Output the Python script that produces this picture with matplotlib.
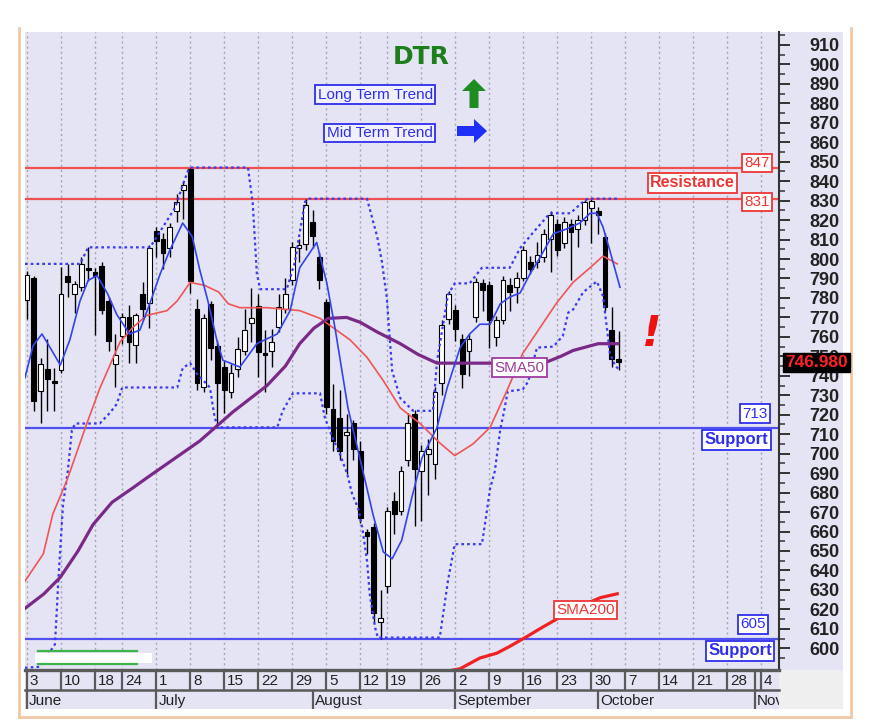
import matplotlib
matplotlib.use('Agg')
import matplotlib.pyplot as plt
from matplotlib.patches import Rectangle, Polygon
from matplotlib.lines import Line2D
import matplotlib.transforms as mtransforms

# ---------------- data ----------------
opens = [779, 790, 732, 743.5, 737.5, 743, 791.5, 782, 785.5, 795.5,
         793.5, 796.5, 778.5, 746, 760.5, 770, 756, 782, 777.5, 814.5,
         810.5, 805.5, 824.5, 835.5, 846.5, 774.5, 734, 777, 755.5, 744.5,
         731.5, 743.5, 753, 767, 776, 751.5, 753, 765, 774.5, 789,
         805.5, 807.5, 819, 801, 778, 723, 718.5, 709.5, 715.5, 701.5,
         659.5, 662.5, 613.5, 632, 675.5, 670.5, 696.5, 720.5, 691, 700,
         694.5, 736.5, 769, 774, 759, 753, 770, 787.5, 786.5, 760,
         768.5, 786.5, 785.5, 790.5, 798.5, 798.5, 801, 810.5, 818, 808,
         818, 815.5, 820, 826, 824.5, 811.5, 763.5, 748.5]
highs = [794, 791.5, 749, 759, 744, 796, 797.5, 788.5, 801, 806,
         795.5, 798.5, 780.5, 761.5, 772.5, 776.5, 772.5, 788, 807, 816.5,
         813.5, 818.5, 833.5, 839.5, 847, 779.5, 771.5, 778.5, 758.5, 747.5,
         746, 760, 774.5, 785, 782, 763.5, 764, 782, 790, 808.5,
         810.5, 831, 825, 803.5, 779.5, 736, 732.5, 720.5, 717.5, 706.5,
         661.5, 664.5, 630, 672.5, 680.5, 693.5, 721, 722.5, 704.5, 707.5,
         734.5, 768.5, 783.5, 776.5, 761.5, 761.5, 790.5, 789.5, 788.5, 770.5,
         791.5, 790.5, 793.5, 806.5, 801.5, 808.5, 815.5, 824.5, 820.5, 821.5,
         820.5, 822.5, 830.5, 831, 826.5, 813.5, 775.5, 763]
lows = [769, 722, 716, 722, 722, 741.5, 780.5, 772.5, 783.5, 788.5,
        761, 771.5, 752.5, 734, 756.5, 746.5, 746.5, 768.5, 764.5, 801,
        795, 801, 819, 820.5, 782.5, 732.5, 731.5, 748, 713.5, 721,
        728.5, 739.5, 750.5, 757.5, 739.5, 731.5, 744.5, 762.5, 772.5, 786.5,
        798.5, 804.5, 805.5, 784.5, 720.5, 701.5, 696.5, 689.5, 696.5, 664.5,
        648.5, 613.5, 605, 628.5, 658.5, 668.5, 693.5, 663, 665.5, 679,
        687, 730, 766.5, 758, 733.5, 740, 767.5, 773.5, 754.5, 755.5,
        766.5, 773.5, 777.5, 788.5, 792.5, 795.5, 798.5, 793.5, 801.5, 805.5,
        789, 806, 817.5, 808, 813, 773.5, 744.5, 743]
closes = [792, 727, 746, 738.5, 736.5, 782, 788, 787, 797.5, 794.5,
          791.5, 774, 758, 750.5, 770, 757.5, 771, 774.5, 805.5, 809.5,
          803, 816.5, 829.5, 838, 788.5, 736.5, 769.5, 754.5, 736.5, 732.5,
          741.5, 754, 763.5, 769.5, 752, 750.5, 757.5, 775.5, 782, 806,
          807, 828, 812, 789, 724, 706.5, 701.5, 711, 702.5, 667,
          657.5, 618, 615.5, 670.5, 669, 691, 715.5, 692, 701.5, 702.5,
          731.5, 766, 782, 764, 741, 759, 788, 784, 768.5, 768.5,
          789, 783, 790.5, 804.5, 795, 802, 813, 822.5, 804.5, 819,
          814, 820, 829.5, 830, 822.5, 775.5, 748.5, 746.98]

fast_x = [-0.3, 0.9, 2.2, 3.4, 4.9, 6.3, 7.8, 9, 10.3, 11.8, 13.2, 15.1, 16.6, 18.1,
          19.6, 21, 22.9, 24.3, 25.4, 26.6, 27.9, 28.8, 29.9, 31.3, 33.8, 36.8, 38.7,
          40.1, 42.6, 44.1, 45.3, 47.2, 49.3, 50.9, 52.4, 53.7, 55.1, 56.6, 58.1, 60.3,
          61.8, 63.7, 65.1, 66.6, 68.1, 69.6, 71, 72.5, 74, 75.4, 77.4, 79.4, 81.3,
          82.8, 83.8, 84.7, 85.7, 87.2]
fast_y = [739, 755.5, 761.5, 754.5, 745.5, 758.5, 778.5, 789, 791.5, 782.5, 771.5, 761.5,
          763.5, 777.5, 792.5, 804.5, 818.5, 811.5, 794.5, 778.5, 758.5, 748, 746.5, 744.5,
          756.5, 761.5, 773.5, 795.5, 808.5, 787.5, 764.5, 723.5, 692.5, 668.5, 649.5, 646,
          655.5, 677.5, 698, 713.5, 734, 754.5, 761.5, 766.5, 766.5, 777, 780.5, 782.5,
          792.5, 800.5, 813, 815.5, 818.5, 823.5, 823.5, 816.5, 804.5, 785.5]

sma20_x = [-0.3, 2.4, 3.8, 5.9, 8.8, 10.7, 13.7, 15.6, 17.6, 20.6, 22.1, 24, 26.1, 28.2,
           29.6, 31.3, 35.3, 40.1, 43.1, 47.5, 50, 52.4, 54.9, 57.8, 60.7, 62.9, 65.6,
           68.1, 70.6, 72.9, 75.4, 77.9, 80.3, 82.8, 84.7, 86.8]
sma20_y = [634.5, 648.5, 669, 686.5, 715.5, 733.5, 757.5, 765, 771, 773.5, 778.5, 788,
           786.5, 783, 777, 775, 775, 773.5, 769.5, 758.5, 749.5, 737.5, 723.5, 715.5,
           705.5, 699, 705, 713.5, 732.5, 751.5, 764.5, 777.5, 788, 795.5, 801.5, 797.5]

sma50_x = [-0.3, 2.5, 4.9, 7.5, 9.7, 12.5, 15.6, 17.6, 21.5, 25.4, 30.3, 35.3, 38, 40.1,
           42.2, 44.3, 47, 49, 51.5, 54.9, 57.5, 60.3, 68.7, 76, 78.5, 80.3, 84, 86.9]
sma50_y = [620.5, 628, 636.5, 650, 663.5, 675, 682.5, 687.5, 697, 706.5, 721.5, 735, 745,
           756.5, 764.5, 769.5, 770, 767.5, 762.5, 756.5, 751, 746.5, 746.5, 746.5, 750,
           753, 756.5, 756.5]

sma200_x = [60, 62.2, 63.7, 66.6, 69.1, 71, 73.5, 75.9, 78.4, 81.3, 84.3, 86.8]
sma200_y = [583, 588.5, 589.5, 595, 597.5, 601, 606, 611, 616, 621.5, 626, 628]

upper_x = [-0.3, 7.8, 9, 18.1, 20, 21.8, 22.9, 23.7, 24.2, 32.5, 33.2, 33.8, 34.3, 38.2,
           39.4, 40.1, 40.9, 41.5, 50, 51.5, 52.2, 52.9, 53.7, 54.9, 56.8, 59.7, 60.3,
           61.2, 61.9, 62.9, 65.1, 66.9, 71, 72.5, 74.4, 76.9, 79.9, 81.8, 82.5, 86.8]
upper_y = [797.5, 797.5, 806, 806, 816.5, 826.5, 838, 845.5, 847, 847, 828.5, 792.5,
           784.5, 784.5, 798.5, 813.5, 829.5, 831, 831, 811.5, 798.5, 780.5, 742.5, 728.5,
           722, 722, 747.5, 766.5, 781.5, 787.5, 787.5, 795.5, 795.5, 805.5, 813.5, 823.5,
           823.5, 829.5, 831, 831]

lower_x = [-0.3, 1.9, 4.1, 4.3, 4.6, 5.3, 6, 6.6, 7.1, 10.7, 12.2, 13.2, 14, 22.1, 22.9,
           24, 25, 26.9, 27.6, 28.1, 36.8, 37.6, 39.1, 43.1, 43.8, 44.9, 46, 47.1, 47.8,
           48.7, 49.3, 50, 50.4, 51.2, 51.6, 60.7, 61.3, 61.9, 62.9, 66.9, 67.4, 68.1,
           68.8, 69.6, 70, 70.7, 72.9, 73.7, 75, 77.4, 78.8, 79.6, 80.3, 81.8, 83.8,
           84.7, 85.3, 85.7, 86.5, 87.2]
lower_y = [590, 590.5, 602, 614, 634.5, 674, 691, 712, 715.5, 715.5, 721, 725.5, 734, 734,
           744, 746.5, 741, 734, 718.5, 713.5, 713.5, 722, 731, 731, 718.5, 708.5, 700,
           689.5, 679.5, 672, 662, 645, 628, 610.5, 605.5, 605.5, 620, 634.5, 653.5, 653.5,
           665, 682, 691, 712.5, 719, 732, 733, 737, 754.5, 755, 760.5, 772.5, 774, 783,
           788.5, 781, 764, 752, 745, 743]

resistance_levels = [847, 831]
support_levels = [713, 605]
last_price = 746.98

week_days = [0, 5, 10, 14, 19, 24, 29, 34, 39, 44, 49, 53, 58, 63, 68, 73, 78, 83,
             88, 93, 98, 103, 108]
week_labels = ['3', '10', '18', '24', '1', '8', '15', '22', '29', '5', '12', '19', '26',
               '2', '9', '16', '23', '30', '7', '14', '21', '28', '4']
month_starts = [0, 19, 42, 63, 84, 107]
month_names = ['June', 'July', 'August', 'September', 'October', 'November']
y_ticks = list(range(600, 911, 10))

# ---------------- style ----------------
W, H = 880, 726
LAV = '#E4E4F4'
FONT = 'Liberation Sans'
NARROW = ['Liberation Sans Narrow', 'Liberation Sans']
RED = '#EE3535'
BLUE = '#2E2EEE'
PURPLE = '#A03C9E'

fig = plt.figure(figsize=(W / 100, H / 100), dpi=100)
fig.patch.set_facecolor('white')
pix = mtransforms.Affine2D().scale(1 / W, -1 / H).translate(0, 1) + fig.transFigure

# background panels and frame (behind the axes)
fig.patches.append(Rectangle((25, 31.5), 818, 677.8, transform=pix, facecolor=LAV,
                             edgecolor='none', zorder=-5))
fig.patches.append(Rectangle((779, 670), 64, 39.3, transform=pix, facecolor='#EFEFEF',
                             edgecolor='none', zorder=-4))
for xs, ys in [([19, 19], [28, 717]), ([851, 851], [28, 717]), ([19, 851], [717, 717])]:
    fig.lines.append(Line2D(xs, ys, transform=pix, color='#F2C8A4', lw=2, zorder=-3))

# ---------------- main axes ----------------
ax = fig.add_axes([25 / W, 1 - 670 / H, 754 / W, 638 / H])
ax.set_facecolor(LAV)
ax.set_xlim(-0.294, 110.59)
ax.set_ylim(588.85, 916.64)
for s in ['left', 'top', 'bottom']:
    ax.spines[s].set_visible(False)
ax.spines['right'].set_color('#333333')
ax.spines['right'].set_linewidth(1.5)
ax.set_xticks([])
ax.yaxis.tick_right()
ax.set_yticks(y_ticks)
ax.set_yticks([v + 5 for v in y_ticks[:-1]] + [595, 915], minor=True)
ax.set_yticklabels([str(v) for v in y_ticks])
ax.tick_params(axis='y', which='major', length=8, width=1.4, color='#333333', pad=14,
               labelsize=13, labelcolor='#222222')
ax.tick_params(axis='y', which='minor', length=4, width=1.1, color='#333333')
for lbl in ax.get_yticklabels():
    lbl.set_fontfamily(NARROW)
    lbl.set_fontweight('bold')

# vertical dotted grid
for d in week_days:
    ax.axvline(d, color='#A4A4B4', lw=1.0, ls=(0, (1.5, 2.2)), zorder=1)

# levels
for lv in resistance_levels:
    ax.axhline(lv, color='#F05050', lw=1.6, zorder=2)
for lv in support_levels:
    ax.axhline(lv, color='#5050F0', lw=1.6, zorder=2)

# candles
bw = 0.72
for i, (o, h, l, c) in enumerate(zip(opens, highs, lows, closes)):
    ax.vlines(i, l, h, color='black', lw=1.0, zorder=3)
    bottom = min(o, c)
    height = max(abs(c - o), 0.7)
    fc = 'white' if c >= o else 'black'
    ax.add_patch(Rectangle((i - bw / 2, bottom), bw, height, facecolor=fc,
                           edgecolor='black', lw=0.8, zorder=4))

# indicator lines
ax.plot(upper_x, upper_y, color='#3A3AF0', lw=1.6, ls=(0, (1.2, 1.4)), zorder=5)
ax.plot(lower_x, lower_y, color='#3A3AF0', lw=1.6, ls=(0, (1.2, 1.4)), zorder=5)
ax.plot(sma20_x, sma20_y, color='#F05555', lw=1.2, zorder=6)
ax.plot(sma50_x, sma50_y, color='#7A2A86', lw=2.3, zorder=6, solid_joinstyle='round')
ax.plot(sma200_x, sma200_y, color='#EE2222', lw=2.3, zorder=6, solid_joinstyle='round')
ax.plot(fast_x, fast_y, color='#3344EE', lw=1.2, zorder=7)

# partial top label (920), cut by the panel edge
clip_rect = Rectangle((780, 31.5), 63, 30, transform=pix, facecolor='none', edgecolor='none')
fig.patches.append(clip_rect)
t920 = fig.text(810 / W, 1 - 25.5 / H, '920', ha='left', va='center', fontsize=13,
                fontweight='bold', family=NARROW, color='#222222')
t920.set_clip_path(clip_rect)

# ---------------- annotation boxes ----------------
blend = mtransforms.blended_transform_factory(ax.transAxes, ax.transData)


def boxed(x, y, s, color, size, weight='normal', transform=None, fc='white', pad=0.15):
    ax.text(x, y, s, transform=transform, ha='center', va='center', fontsize=size,
            fontweight=weight, family=FONT, color=color, zorder=10, clip_on=False,
            bbox=dict(boxstyle='square,pad=%s' % pad, fc=fc, ec=color, lw=1.3))


boxed(0.9708, 849.3, '847', RED, 11, transform=blend)
boxed(0.9708, 829.3, '831', RED, 11, transform=blend)
boxed(0.8853, 839.2, 'Resistance', RED, 11.5, 'bold', transform=blend)
boxed(0.9678, 720.6, '713', BLUE, 11, transform=blend)
boxed(0.9439, 707.1, 'Support', BLUE, 12, 'bold', transform=blend)
boxed(0.9659, 612.3, '605', BLUE, 11, transform=blend)
boxed(0.9483, 598.8, 'Support', BLUE, 12, 'bold', transform=blend)
boxed(72.4, 744.2, 'SMA50', PURPLE, 11, transform=ax.transData)
boxed(82.1, 619.7, 'SMA200', RED, 11, transform=ax.transData)

# last price tag
ax.text(1.0085, last_price, '746.980', transform=blend, ha='left', va='center',
        fontsize=12.5, fontweight='bold', family=NARROW, color='#FF2222', zorder=10,
        clip_on=False, bbox=dict(boxstyle='square,pad=0.12', fc='black', ec='black'))

# title & trend boxes (figure pixel positions)
fig.text(421.5 / W, 1 - 56.7 / H, 'DTR', ha='center', va='center', fontsize=18,
         fontweight='bold', color='#1C7F1C', family='DejaVu Sans')
for (cx, cy, s) in [(375.3, 94.5, 'Long Term Trend'), (379.7, 133, 'Mid Term Trend')]:
    fig.text(cx / W, 1 - cy / H, s, ha='center', va='center', fontsize=11, family=FONT,
             color=BLUE, bbox=dict(boxstyle='square,pad=0.15', fc='#F0F0FF', ec=BLUE, lw=1.3))

fig.patches.append(Polygon([(474, 79), (486, 91), (478.5, 91), (478.5, 108), (469.5, 108),
                            (469.5, 91), (462, 91)], closed=True, transform=pix,
                           facecolor='#1E8C22', edgecolor='none', zorder=5))
fig.patches.append(Polygon([(487, 131), (474, 143), (474, 136), (457, 136), (457, 126),
                            (474, 126), (474, 119)], closed=True, transform=pix,
                           facecolor='#1F2FF5', edgecolor='none', zorder=5))

fig.text(651 / W, 1 - 334 / H, '!', ha='center', va='center', fontsize=31,
         fontweight='bold', style='italic', color='#EE1111', family='DejaVu Sans')

# small legend artefact bottom-left
fig.patches.append(Rectangle((35, 652.7), 117, 10.6, transform=pix, facecolor='white',
                             edgecolor='none', zorder=5))
for yy in [650.5, 664]:
    fig.lines.append(Line2D([38, 137], [yy, yy], transform=pix, color='#3DB54A', lw=1.6,
                            zorder=6))

# ---------------- date axis ----------------
ax2 = fig.add_axes([25 / W, 1 - 709.3 / H, 754 / W, 39.3 / H])
ax2.set_xlim(-0.294, 110.59)
ax2.set_ylim(0, 1)
ax2.axis('off')
mid = (709.3 - 690) / 39.3
ax2.axhline(1, color='#5A5A5A', lw=2.4, clip_on=False)
ax2.axhline(mid, color='#5A5A5A', lw=1.8, clip_on=False)
ax2.vlines(week_days, mid, 1, color='#5A5A5A', lw=1.6)
ax2.vlines(month_starts, 0, mid, color='#5A5A5A', lw=1.6)
ax2.vlines([month_starts[-1]], mid, 1, color='#5A5A5A', lw=1.6)
for d, s in zip(week_days, week_labels):
    ax2.text(d + 0.4, 0.72, s, ha='left', va='center', fontsize=11, family=FONT,
             color='#222222', clip_on=True)
for d, s in zip(month_starts, month_names):
    ax2.text(d + 0.3, 0.21, s, ha='left', va='center', fontsize=11, family=FONT,
             color='#222222', clip_on=True)

fig.savefig('out.png', dpi=100, facecolor='white')
